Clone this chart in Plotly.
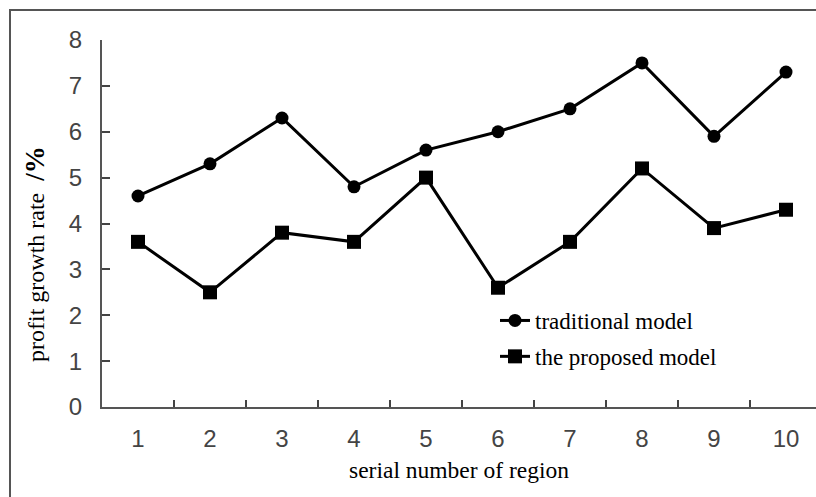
import plotly.graph_objects as go

regions = ["1", "2", "3", "4", "5", "6", "7", "8", "9", "10"]
traditional = [4.6, 5.3, 6.3, 4.8, 5.6, 6.0, 6.5, 7.5, 5.9, 7.3]
proposed = [3.6, 2.5, 3.8, 3.6, 5.0, 2.6, 3.6, 5.2, 3.9, 4.3]
y_ticks = [0, 1, 2, 3, 4, 5, 6, 7, 8]

W, H = 816, 497
ML, MR, MT, MB = 102, 0, 40, 90
PW = W - ML - MR
PH = H - MT - MB

def px_x(px):
    return (px - ML) / PW

def px_y(py):
    return (H - MB - py) / PH

tick_font = dict(family="Liberation Sans, Arial, sans-serif", size=24, color="#444444")
serif = "Liberation Serif, Times New Roman, serif"

fig = go.Figure()
fig.add_trace(go.Scatter(
    x=regions, y=traditional, name="traditional model", mode="lines+markers",
    line=dict(color="black", width=3), marker=dict(symbol="circle", size=13, color="black"),
    legendgroup="a"))
fig.add_trace(go.Scatter(
    x=regions, y=proposed, name="the proposed model", mode="lines+markers",
    line=dict(color="black", width=3), marker=dict(symbol="square", size=14, color="black"),
    legendgroup="b"))

fig.update_layout(
    width=W, height=H,
    margin=dict(l=ML, r=MR, t=MT, b=MB, autoexpand=False),
    paper_bgcolor="white", plot_bgcolor="white",
    showlegend=True,
    legend=dict(x=px_x(495), y=px_y(299), xanchor="left", yanchor="top",
                font=dict(family=serif, size=23, color="black"),
                bgcolor="rgba(0,0,0,0)", tracegroupgap=3, traceorder="grouped"),
    xaxis=dict(
        type="category", categoryorder="array", categoryarray=regions,
        range=[-0.5, -0.5 + PW / 72.0], automargin=False,
        showline=True, linecolor="#555555", linewidth=2,
        ticks="inside", tickson="boundaries", ticklen=7, tickwidth=2, tickcolor="#444444",
        showgrid=False, zeroline=False, tickfont=tick_font, ticklabelstandoff=9,
        title=dict(text="serial number of region", font=dict(family=serif, size=23.5, color="black"), standoff=11),
    ),
    yaxis=dict(
        range=[0, 8], tickvals=y_ticks, automargin=False,
        showline=True, linecolor="#555555", linewidth=2,
        ticks="inside", ticklen=8, tickwidth=2, tickcolor="#444444",
        showgrid=False, zeroline=False, tickfont=tick_font, ticklabelstandoff=13,
    ),
    annotations=[dict(
        text="profit growth rate  <b><span style='font-size:27px'>/%</span></b>", textangle=-90,
        xref="paper", yref="paper", x=px_x(35), y=px_y(254),
        xanchor="center", yanchor="middle", showarrow=False,
        font=dict(family=serif, size=24, color="black"))],
    shapes=[dict(type="rect", xref="paper", yref="paper",
                 x0=px_x(10), y0=-0.4, x1=1.2, y1=px_y(10),
                 line=dict(color="#555555", width=2), layer="above")],
)

fig.write_html("out.html", config={"displayModeBar": False},
               post_script="document.body.style.margin='0';document.body.style.overflow='hidden';")
